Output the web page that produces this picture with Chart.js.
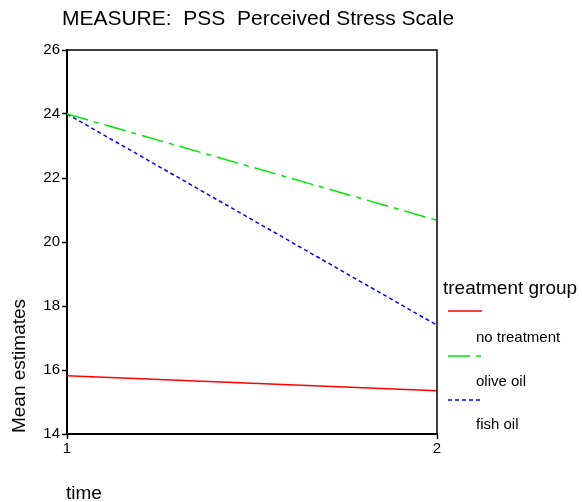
<!DOCTYPE html>
<html>
<head>
<meta charset="utf-8">
<script src="https://cdn.jsdelivr.net/npm/chart.js@4"></script>
<style>
  html, body { margin: 0; padding: 0; background: #fff; }
  #wrap { width: 582px; height: 502px; }
</style>
</head>
<body>
<div id="wrap"><canvas id="myChart" width="582" height="502"></canvas></div>
<script>
// data
const times = [1, 2];
const groups = ['no treatment', 'olive oil', 'fish oil'];
const noTreatment = [15.82, 15.35];
const oliveOil = [24.0, 20.68];
const fishOil = [24.0, 17.4];
const yTicks = [14, 16, 18, 20, 22, 24, 26];

const FONT = '"Liberation Sans", Arial, sans-serif';
const colors = ['#ff0000', '#00e600', '#0000ff'];
const dashes = [[], [22, 6, 5, 6], [4, 3]];
const series = [noTreatment, oliveOil, fishOil];

const data = {
  datasets: groups.map((g, i) => ({
    label: g,
    data: times.map((t, j) => ({ x: t, y: series[i][j] })),
    borderColor: colors[i],
    borderWidth: 1.5,
    borderDash: dashes[i],
    pointRadius: 0,
    fill: false,
    tension: 0
  }))
};

// title, axis titles, frame and legend drawn by hand (SPSS-style layout)
const extras = {
  id: 'extras',
  afterDraw(chart) {
    const ctx = chart.ctx;
    const a = chart.chartArea;
    ctx.save();
    // thin top / right frame
    ctx.strokeStyle = '#000';
    ctx.lineWidth = 1.5;
    ctx.beginPath();
    ctx.moveTo(a.left, a.top);
    ctx.lineTo(a.right, a.top);
    ctx.lineTo(a.right, a.bottom);
    ctx.stroke();

    ctx.fillStyle = '#000';
    ctx.textBaseline = 'middle';
    ctx.font = '21px ' + FONT;
    ctx.textAlign = 'center';
    ctx.fillText('MEASURE:  PSS  Perceived Stress Scale', 258, 19);

    ctx.font = '19px ' + FONT;
    ctx.textAlign = 'left';
    ctx.fillText('time', 66, 494);

    ctx.save();
    ctx.translate(20, 366);
    ctx.rotate(-Math.PI / 2);
    ctx.textAlign = 'center';
    ctx.fillText('Mean estimates', 0, 0);
    ctx.restore();

    // legend
    ctx.textAlign = 'left';
    ctx.font = '19px ' + FONT;
    ctx.fillText('treatment group', 443, 289);
    ctx.font = '15px ' + FONT;
    const sampleY = [311, 356, 400];
    const labelY = [338, 382, 425];
    groups.forEach((g, i) => {
      ctx.strokeStyle = colors[i];
      ctx.lineWidth = 1.5;
      ctx.setLineDash(dashes[i]);
      ctx.beginPath();
      ctx.moveTo(448, sampleY[i]);
      ctx.lineTo(482, sampleY[i]);
      ctx.stroke();
      ctx.setLineDash([]);
      ctx.fillStyle = '#000';
      ctx.fillText(g, 476, labelY[i]);
    });
    ctx.restore();
  }
};

const config = {
  type: 'line',
  data,
  options: {
    responsive: false,
    animation: false,
    layout: { padding: { top: 50, right: 145, left: 0, bottom: 0 } },
    plugins: { legend: { display: false }, title: { display: false }, tooltip: { enabled: false } },
    scales: {
      x: {
        type: 'linear',
        min: times[0],
        max: times[times.length - 1],
        afterBuildTicks: (s) => { s.ticks = times.map(v => ({ value: v })); },
        afterFit: (s) => { s.height = 68; },
        ticks: { color: '#000', font: { size: 15, family: FONT }, padding: 1, maxRotation: 0 },
        grid: { drawOnChartArea: false, color: '#000', tickLength: 5, tickWidth: 1.5 },
        border: { color: '#000', width: 2 }
      },
      y: {
        min: yTicks[0],
        max: yTicks[yTicks.length - 1],
        afterBuildTicks: (s) => { s.ticks = yTicks.map(v => ({ value: v })); },
        afterFit: (s) => { s.width = 67; },
        ticks: { color: '#000', font: { size: 15, family: FONT }, padding: 2 },
        grid: { drawOnChartArea: false, color: '#000', tickLength: 5, tickWidth: 1.5 },
        border: { color: '#000', width: 2 }
      }
    }
  },
  plugins: [extras]
};

const myChart = new Chart(document.getElementById('myChart'), config);
</script>
</body>
</html>
